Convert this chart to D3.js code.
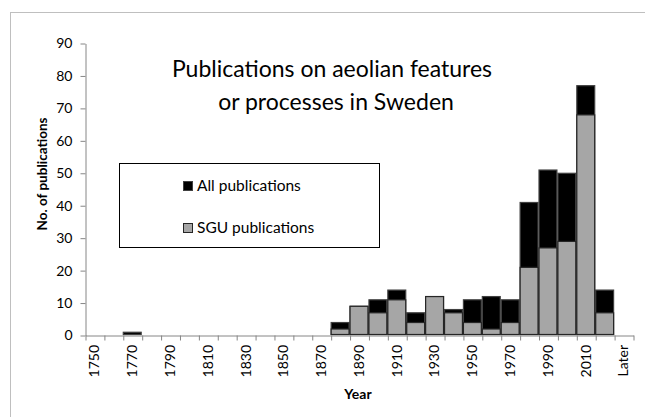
<!DOCTYPE html>
<html>
<head>
<meta charset="utf-8">
<script src="https://cdn.jsdelivr.net/npm/d3@7"></script>
<style>
body { margin: 0; background: #fff; }
text { font-family: Lato, "Open Sans", sans-serif; fill: #000; }
</style>
</head>
<body>
<svg id="chart" width="645" height="417"></svg>
<script>
// Categories (decades) along the x axis
var years = ['1750', '1760', '1770', '1780', '1790', '1800', '1810', '1820', '1830', '1840',
    '1850', '1860', '1870', '1880', '1890', '1900', '1910', '1920', '1930', '1940',
    '1950', '1960', '1970', '1980', '1990', '2000', '2010', '2020', 'Later'];

// Which categories get a label (every other one)
var yearLabels = ['1750', '1770', '1790', '1810', '1830', '1850', '1870', '1890', '1910',
    '1930', '1950', '1970', '1990', '2010', 'Later'];

var allPubs = [0, 0, 1, 0, 0, 0, 0, 0, 0, 0,
    0, 0, 0, 4, 9, 11, 14, 7, 12, 8,
    11, 12, 11, 41, 51, 50, 77, 14, 0];

var sguPubs = [0, 0, 0, 0, 0, 0, 0, 0, 0, 0,
    0, 0, 0, 2, 9, 7, 11, 4, 12, 7,
    4, 2, 4, 21, 27, 29, 68, 7, 0];

var yTicks = [0, 10, 20, 30, 40, 50, 60, 70, 80, 90];

var series = [
    {name: 'All publications', values: allPubs, fill: '#000000', stroke: '#404040'},
    {name: 'SGU publications', values: sguPubs, fill: '#a6a6a6', stroke: '#262626'}
];

var svg = d3.select('#chart');

// chart area border
svg.append('rect').attr('x', 10.5).attr('y', 12.5).attr('width', 650).attr('height', 420).
    style('fill', 'none').style('stroke', '#bfbfbf');

var plot = {x: 85, y: 43, w: 548, h: 292};

var x = d3.scaleBand().domain(years).range([plot.x, plot.x + plot.w]).padding(0);
var xIdx = d3.scaleLinear().domain([0, years.length]).range([plot.x, plot.x + plot.w]);
var y = d3.scaleLinear().domain([0, 90]).range([plot.y + plot.h, plot.y]);

// bars - all publications first, SGU drawn over it
series.forEach(function(s) {
    svg.append('g').attr('class', 'bars').
        selectAll('rect').
        data(s.values.map(function(v, i) { return {cat: years[i], v: v}; }).filter(function(d) { return d.v > 0; })).
        enter().append('rect').
        attr('x', function(d) { return x(d.cat) + 0.5; }).
        attr('y', function(d) { return y(d.v) + 0.5; }).
        attr('width', x.bandwidth() - 1).
        attr('height', function(d) { return y(0) - y(d.v) - 1; }).
        style('fill', s.fill).style('stroke', s.stroke).style('stroke-width', 1.2);
});

// y axis
var yAxis = svg.append('g').attr('transform', 'translate(' + (plot.x + 0.5) + ',0.5)').
    call(d3.axisLeft(y).tickValues(yTicks).tickSize(5).tickSizeOuter(0).tickPadding(8));
yAxis.selectAll('text').style('font-size', '14px');

// x axis: tick marks on category boundaries
var xTicks = svg.append('g').attr('transform', 'translate(0.5,' + (plot.y + plot.h + 0.5) + ')').
    call(d3.axisBottom(xIdx).tickValues(d3.range(years.length + 1)).tickFormat('').tickSize(5).tickSizeOuter(0));

// x axis labels, rotated
var xLab = svg.append('g').attr('transform', 'translate(0,' + (plot.y + plot.h) + ')').
    call(d3.axisBottom(x).tickValues(yearLabels).tickSize(0));
xLab.select('.domain').remove();
xLab.selectAll('text').style('font-size', '14px').
    attr('text-anchor', 'end').attr('transform', 'rotate(-90)').
    attr('x', -10).attr('y', 0).attr('dy', '0.35em');

[yAxis, xTicks].forEach(function(a) {
    a.selectAll('.domain, line').style('stroke', '#868686');
});

// axis titles
svg.append('text').attr('x', 358).attr('y', 399).attr('text-anchor', 'middle').
    style('font-size', '14px').style('font-weight', 'bold').text('Year');

svg.append('text').attr('transform', 'translate(47,174) rotate(-90)').attr('text-anchor', 'middle').
    style('font-size', '13.5px').style('font-weight', 'bold').text('No. of publications');

// chart title
var title = svg.append('text').attr('text-anchor', 'middle').style('font-size', '23px');
title.append('tspan').attr('x', 332).attr('y', 77).text('Publications on aeolian features');
title.append('tspan').attr('x', 336).attr('y', 110).text('or processes in Sweden');

// legend
var legend = svg.append('g').attr('class', 'legend');
legend.append('rect').attr('x', 119.5).attr('y', 163.5).attr('width', 260).attr('height', 84).
    style('fill', '#fff').style('stroke', '#000');

series.forEach(function(s, i) {
    var ly = 181 + i * 42;
    legend.append('rect').attr('x', 183.5).attr('y', ly + 0.5).attr('width', 9).attr('height', 9).
        style('fill', s.fill).style('stroke', i == 0 ? '#404040' : '#262626');
    legend.append('text').attr('x', 197).attr('y', ly + 10).style('font-size', '15.5px').text(s.name);
});
</script>
</body>
</html>
